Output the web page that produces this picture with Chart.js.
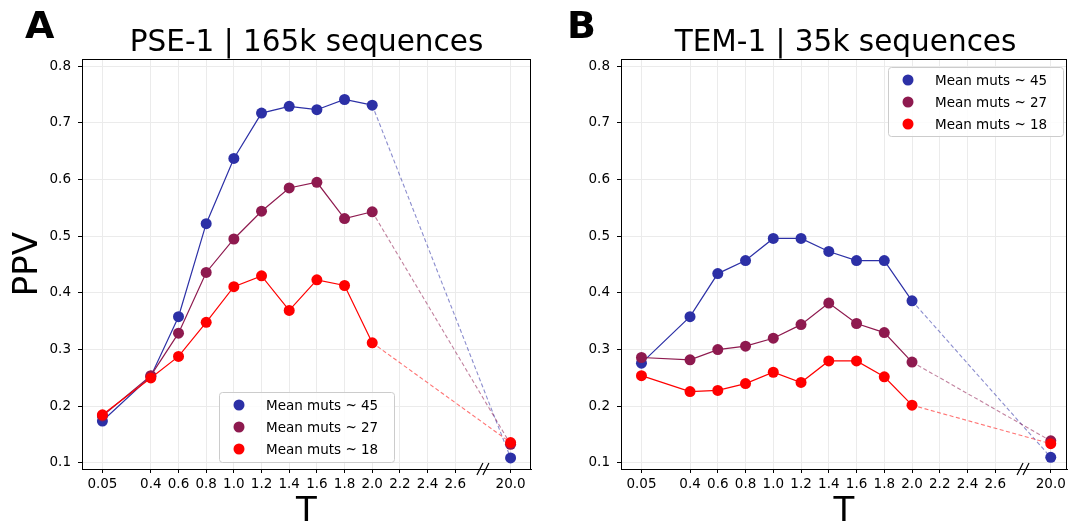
<!DOCTYPE html>
<html>
<head>
<meta charset="utf-8">
<script src="https://cdn.jsdelivr.net/npm/chart.js@4.4.0/dist/chart.umd.min.js"></script>
<style>
    html, body { margin: 0; padding: 0; background: #fff; overflow: hidden; }
    #wrap { position: relative; width: 1068px; height: 525px; overflow: hidden; }
    canvas { position: absolute; top: 0; }
</style>
</head>
<body>
<div id="wrap">
    <canvas id="chartA" width="540" height="540" style="left:0"></canvas>
    <canvas id="chartB" width="540" height="540" style="left:540px"></canvas>
</div>
<script>
"use strict";

// temperatures (20.0 sits after an axis break)
var temps = [0.05, 0.4, 0.6, 0.8, 1.0, 1.2, 1.4, 1.6, 1.8, 2.0, 20.0];
var xTickLabels = ['0.05', '0.4', '0.6', '0.8', '1.0', '1.2', '1.4', '1.6', '1.8', '2.0', '2.2', '2.4', '2.6', '20.0'];
var yTicks = [0.1, 0.2, 0.3, 0.4, 0.5, 0.6, 0.7, 0.8];
var seriesNames = ['Mean muts ~ 45', 'Mean muts ~ 27', 'Mean muts ~ 18'];

// PSE-1
var pse45 = [0.174, 0.253, 0.358, 0.522, 0.637, 0.717, 0.729, 0.723, 0.741, 0.731, 0.109];
var pse27 = [0.183, 0.254, 0.329, 0.436, 0.495, 0.544, 0.585, 0.595, 0.531, 0.543, 0.133];
var pse18 = [0.185, 0.250, 0.288, 0.348, 0.411, 0.430, 0.369, 0.423, 0.413, 0.312, 0.136];

// TEM-1
var tem45 = [0.276, 0.358, 0.434, 0.457, 0.496, 0.496, 0.473, 0.457, 0.457, 0.386, 0.110];
var tem27 = [0.286, 0.282, 0.300, 0.306, 0.320, 0.344, 0.382, 0.346, 0.330, 0.278, 0.139];
var tem18 = [0.254, 0.226, 0.228, 0.240, 0.260, 0.242, 0.280, 0.280, 0.252, 0.202, 0.134];

var colors = ['#2c30a6', '#8e1a4f', '#ff0000'];
var fadedColors = ['rgba(44,48,166,0.55)', 'rgba(142,26,79,0.55)', 'rgba(255,0,0,0.55)'];

// axis break: 20.0 is drawn where 3.0 would be
var BREAK_T = 20.0, BREAK_POS = 3.0;
function tPos(t) { return t === BREAK_T ? BREAK_POS : t; }
var xTickPos = [0.05, 0.4, 0.6, 0.8, 1.0, 1.2, 1.4, 1.6, 1.8, 2.0, 2.2, 2.4, 2.6, BREAK_POS];

var FONT = "'DejaVu Sans', sans-serif";

function makeDatasets(values) {
    return values.map(function (vals, i) {
        var last = vals.length - 1;
        return {
            label: seriesNames[i],
            data: vals.map(function (v, k) { return { x: tPos(temps[k]), y: v }; }),
            borderColor: colors[i],
            backgroundColor: colors[i],
            borderWidth: 1.2,
            pointRadius: 5.5,
            pointBorderWidth: 0,
            pointHoverRadius: 5.5,
            order: 2 - i,
            segment: {
                borderColor: function (c) { return c.p1DataIndex === last ? fadedColors[i] : undefined; },
                borderDash: function (c) { return c.p1DataIndex === last ? [4, 2.5] : undefined; },
                borderWidth: function (c) { return c.p1DataIndex === last ? 1.1 : undefined; }
            }
        };
    });
}

var decor = {
    id: 'decor',
    afterDraw: function (chart) {
        var o = chart.options.plugins.decor;
        var ctx = chart.ctx, a = chart.chartArea;
        ctx.save();
        // spines
        ctx.strokeStyle = '#000';
        ctx.lineWidth = 1;
        ctx.strokeRect(a.left + 0.5, a.top + 0.5, a.right - a.left - 1, a.bottom - a.top);
        // panel letter
        ctx.fillStyle = '#000';
        ctx.font = "bold 38px " + FONT;
        ctx.textAlign = 'left';
        ctx.textBaseline = 'alphabetic';
        ctx.fillText(o.letter, o.letterX, 38);
        // title, centred on the plot area
        ctx.font = "29.5px " + FONT;
        ctx.textAlign = 'center';
        ctx.fillText(o.title, o.titleX, 51);
        // axis break marks
        var bx = chart.scales.x.getPixelForValue(2.8);
        ctx.strokeStyle = '#000';
        ctx.lineWidth = 1.2;
        [-3, 3].forEach(function (d) {
            ctx.beginPath();
            ctx.moveTo(bx + d - 3, a.bottom + 6);
            ctx.lineTo(bx + d + 3, a.bottom - 6);
            ctx.stroke();
        });
        // legend
        var L = o.legend;
        ctx.fillStyle = 'rgba(255,255,255,0.85)';
        ctx.strokeStyle = '#cccccc';
        ctx.lineWidth = 1;
        ctx.beginPath();
        ctx.roundRect(L.x + 0.5, L.y + 0.5, L.w, L.h, 3);
        ctx.fill();
        ctx.stroke();
        ctx.font = "13.5px " + FONT;
        ctx.textAlign = 'left';
        ctx.textBaseline = 'middle';
        seriesNames.forEach(function (name, i) {
            var cy = L.y + 13 + i * 22;
            ctx.fillStyle = colors[i];
            ctx.beginPath();
            ctx.arc(L.x + 20, cy, 5.5, 0, Math.PI * 2);
            ctx.fill();
            ctx.fillStyle = '#000';
            ctx.fillText(name, L.x + 47, cy + 1);
        });
        ctx.restore();
    }
};

function makeChart(id, values, opts) {
    var ctx = document.getElementById(id).getContext('2d');
    return new Chart(ctx, {
        type: 'line',
        data: { datasets: makeDatasets(values) },
        plugins: [decor],
        options: {
            responsive: false,
            animation: false,
            devicePixelRatio: 1,
            layout: { padding: { left: 0, right: opts.padRight, top: 59, bottom: 0 } },
            plugins: {
                legend: { display: false },
                tooltip: { enabled: false },
                decor: { letter: opts.letter, letterX: opts.letterX, title: opts.title, titleX: opts.titleX, legend: opts.legend }
            },
            scales: {
                x: {
                    type: 'linear',
                    min: -0.0975,
                    max: opts.xMax,
                    afterFit: function (s) { s.height = 71; },
                    afterBuildTicks: function (s) { s.ticks = xTickPos.map(function (v) { return { value: v }; }); },
                    ticks: {
                        autoSkip: false,
                        maxRotation: 0,
                        padding: 3,
                        color: '#000',
                        font: { family: FONT, size: 13.5 },
                        callback: function (v) { return xTickLabels[xTickPos.indexOf(v)]; }
                    },
                    grid: { color: '#ebebeb', tickColor: '#000', tickLength: 4, lineWidth: 1 },
                    border: { display: true, color: '#000', width: 1 },
                    title: { display: true, text: 'T', color: '#000', font: { family: FONT, size: 34 }, padding: { top: 0, bottom: 7.6 } }
                },
                y: {
                    type: 'linear',
                    min: 0.0894,
                    max: 0.8124,
                    afterFit: function (s) { s.width = opts.yWidth; },
                    afterBuildTicks: function (s) { s.ticks = yTicks.map(function (v) { return { value: v }; }); },
                    ticks: {
                        padding: 7,
                        color: '#000',
                        font: { family: FONT, size: 13.5 },
                        callback: function (v) { return v.toFixed(1); }
                    },
                    grid: { color: '#ebebeb', tickColor: '#000', tickLength: 4, lineWidth: 1 },
                    border: { display: true, color: '#000', width: 1 },
                    title: { display: opts.showY, text: 'PPV', color: '#000', font: { family: FONT, size: 34 }, padding: { top: 7.6, bottom: 0 } }
                }
            }
        }
    });
}

makeChart('chartA', [pse45, pse27, pse18], {
    letter: 'A', letterX: 25, title: 'PSE-1 | 165k sequences', titleX: 306.5,
    padRight: 9, yWidth: 82, xMax: 3.1475, showY: true,
    legend: { x: 219, y: 392, w: 175, h: 70 }
});
makeChart('chartB', [tem45, tem27, tem18], {
    letter: 'B', letterX: 27, title: 'TEM-1 | 35k sequences', titleX: 305.5,
    padRight: 13, yWidth: 81, xMax: 3.117, showY: false,
    legend: { x: 348, y: 67, w: 175, h: 69 }
});
</script>
</body>
</html>
